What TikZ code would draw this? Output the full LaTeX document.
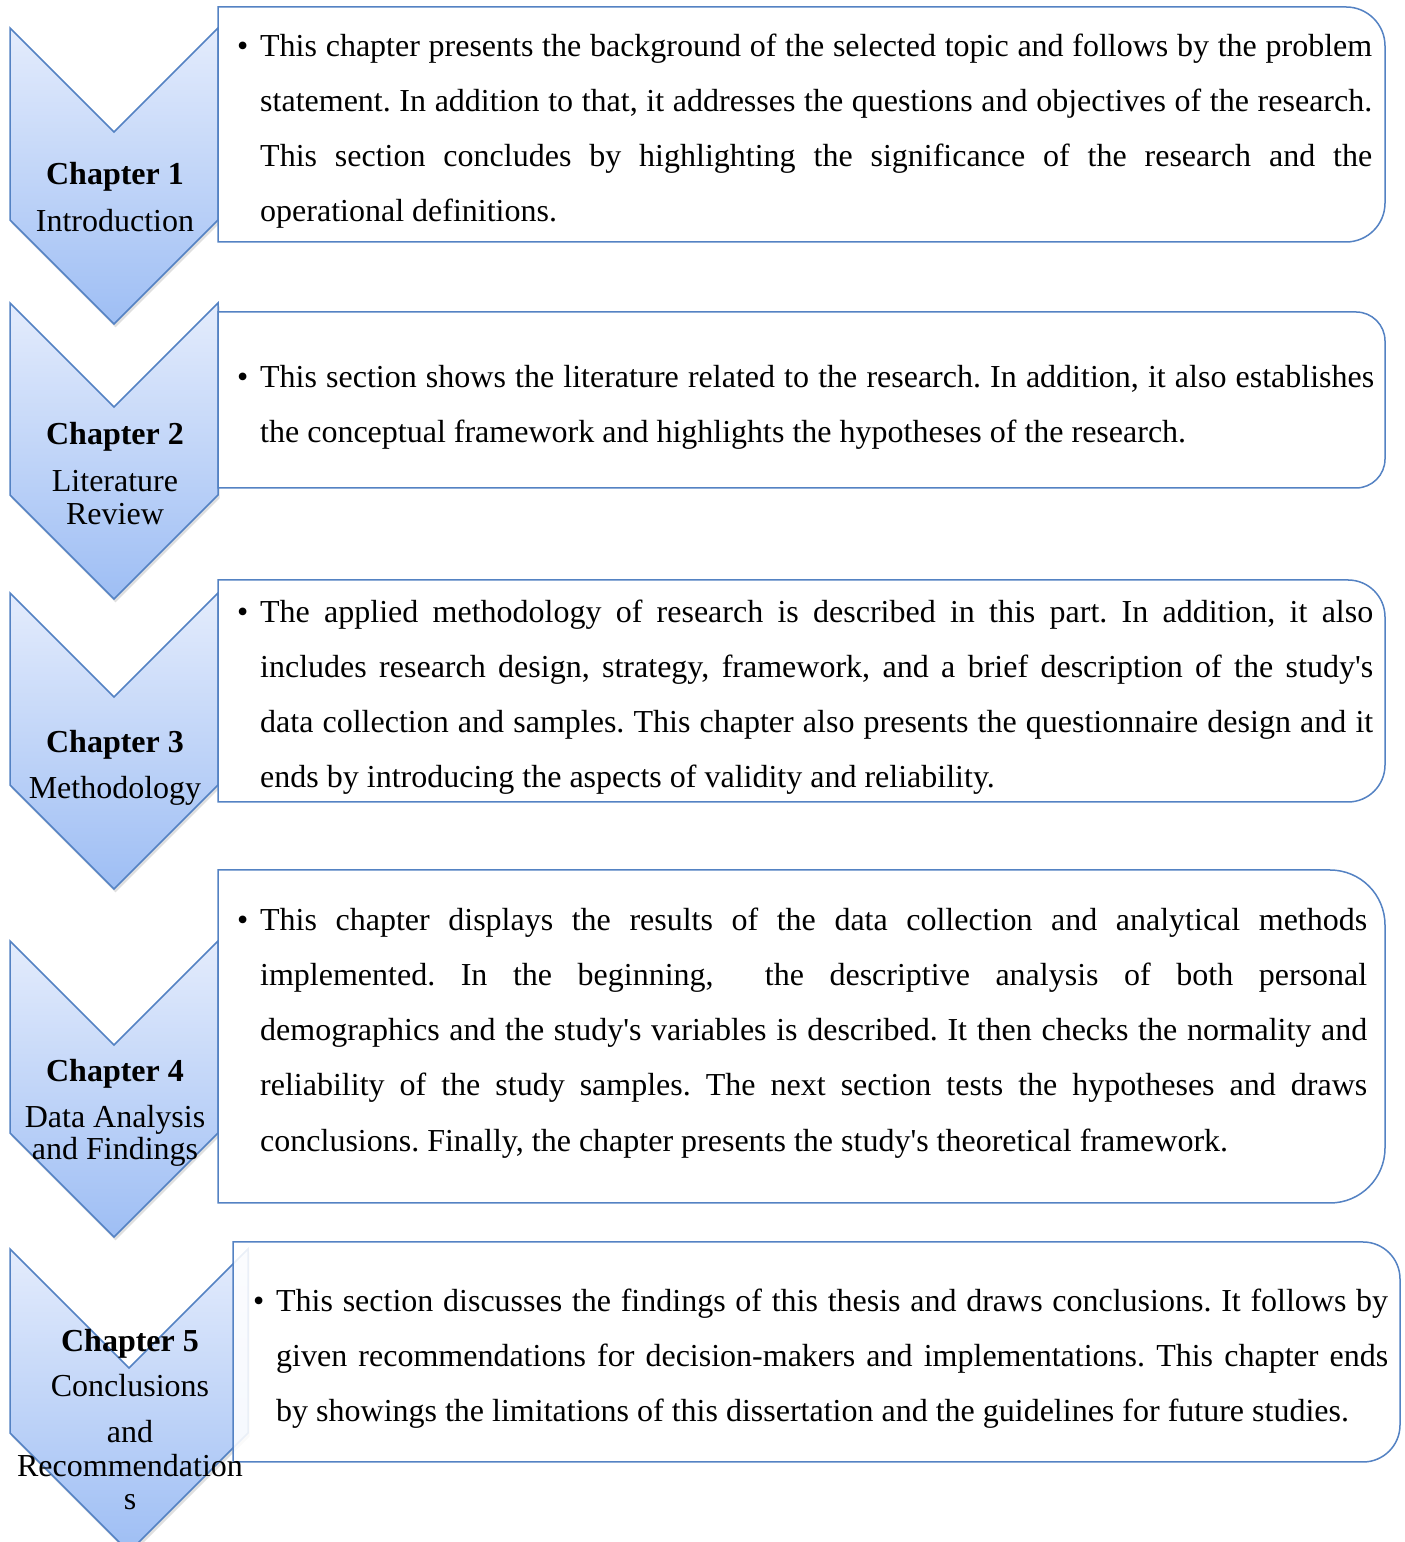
\documentclass[tikz,border=0pt]{standalone}
\usepackage{fontspec}
\setmainfont{Liberation Serif}
\usepackage{xcolor}
\usepackage{tikz}
\usetikzlibrary{shadows}
\frenchspacing
\definecolor{chevline}{RGB}{84,130,195}
\definecolor{chevtop}{RGB}{228,236,252}
\definecolor{chevbot}{RGB}{158,190,244}
% chevron: left x, top y, width, straight side
\newcommand{\chevron}[4]{%
  \draw[chev] (#1,#2) -- ++(#3/2,-#3/2) -- ++(#3/2,#3/2) -- ++(0,-#4)
    -- ++(-#3/2,-#3/2) -- ++(-#3/2,#3/2) -- cycle;}
% box with rounded right corners: left, top, right, bottom, radius
\newcommand{\sumbox}[6][]{%
  \draw[infobox,#1] (#2,#3) -- ({#4-#6},#3) arc[start angle=90,end angle=0,radius=#6]
    -- (#4,{#5+#6}) arc[start angle=0,end angle=-90,radius=#6] -- (#2,#5) -- cycle;}

\begin{document}
\begin{tikzpicture}[x=1pt, y=1pt,
    chev/.style={draw=chevline, line width=1.5pt, top color=chevtop, bottom color=chevbot,
      drop shadow={opacity=0.25, shadow xshift=1.5pt, shadow yshift=-3.5pt}},
    infobox/.style={draw=chevline, line width=1.5pt, fill=white},
    chtitle/.style={anchor=base, inner sep=0pt, font=\fontsize{32}{38}\selectfont\bfseries},
    chname/.style={anchor=base, inner sep=0pt, font=\fontsize{32}{38}\selectfont},
    body/.style={anchor=north west, inner sep=0pt, yshift=38.5pt, align=justify,
      font=\fontsize{32}{55.2}\selectfont}]
  \useasboundingbox (0,0) rectangle (1405,1542);

  % chevrons down the left side
  \foreach \top in {1514,1239,949,601}{
    \chevron{10}{\top}{208}{192}
  }
  \chevron{10}{293}{238}{184}

  % summary boxes
  \foreach \top/\bot/\rad in {1535/1300/39, 1230/1054/29, 962/740/37, 672/339/55}{
    \sumbox{218}{\top}{1385}{\bot}{\rad}
  }
  \sumbox[fill opacity=0.88]{233}{300}{1400}{80}{37}

  % chapter labels
  \node[chtitle] (ch1) at (115,1357) {Chapter 1};
  \node[chname]  (ch1a) at (115,1310) {Introduction};

  \node[chtitle] (ch2) at (115,1097) {Chapter 2};
  \node[chname]  (ch2a) at (115,1050) {Literature};
  \node[chname]  (ch2b) at (115,1017) {Review};

  \node[chtitle] (ch3) at (115,789) {Chapter 3};
  \node[chname]  (ch3a) at (115,743) {Methodology};

  \node[chtitle] (ch4) at (115,460) {Chapter 4};
  \node[chname]  (ch4a) at (115,414) {Data Analysis};
  \node[chname]  (ch4b) at (115,382) {and Findings};

  \node[chtitle] (ch5) at (130,190) {Chapter 5};
  \node[chname]  (ch5a) at (130,145) {Conclusions};
  \node[chname]  (ch5b) at (130,99) {and};
  \node[chname]  (ch5c) at (130,65) {Recommendation};
  \node[chname]  (ch5d) at (130,32) {s};

  % chapter summaries
  \node[body, text width=1112pt] (sum1) at (260,1486) {\strut\llap{\textbullet\hspace{12pt}}%
    This chapter presents the background of the selected topic and follows by the problem\linebreak
    statement. In addition to that, it addresses the questions and objectives of the research.\linebreak
    This section concludes by highlighting the significance of the research and the\linebreak
    operational definitions.};

  \node[body, text width=1114pt] (sum2) at (260,1155) {\strut\llap{\textbullet\hspace{12pt}}%
    This section shows the literature related to the research. In addition, it also establishes\linebreak
    the conceptual framework and highlights the hypotheses of the research.};

  \node[body, text width=1113pt] (sum3) at (260,920) {\strut\llap{\textbullet\hspace{12pt}}%
    The applied methodology of research is described in this part. In addition, it also\linebreak
    includes research design, strategy, framework, and a brief description of the study\textquotesingle s\linebreak
    data collection and samples. This chapter also presents the questionnaire design and it\linebreak
    ends by introducing the aspects of validity and reliability.};

  \node[body, text width=1107pt] (sum4) at (260,612) {\strut\llap{\textbullet\hspace{12pt}}%
    This chapter displays the results of the data collection and analytical methods\linebreak
    implemented. In the beginning, \ the descriptive analysis of both personal\linebreak
    demographics and the study\textquotesingle s variables is described. It then checks the normality and\linebreak
    reliability of the study samples. The next section tests the hypotheses and draws\linebreak
    conclusions. Finally, the chapter presents the study\textquotesingle s theoretical framework.};

  \node[body, text width=1112pt] (sum5) at (276,231) {\strut\llap{\textbullet\hspace{12pt}}%
    This section discusses the findings of this thesis and draws conclusions. It follows by\linebreak
    given recommendations for decision-makers and implementations. This chapter ends\linebreak
    by showings the limitations of this dissertation and the guidelines for future studies.};
\end{tikzpicture}
\end{document}
